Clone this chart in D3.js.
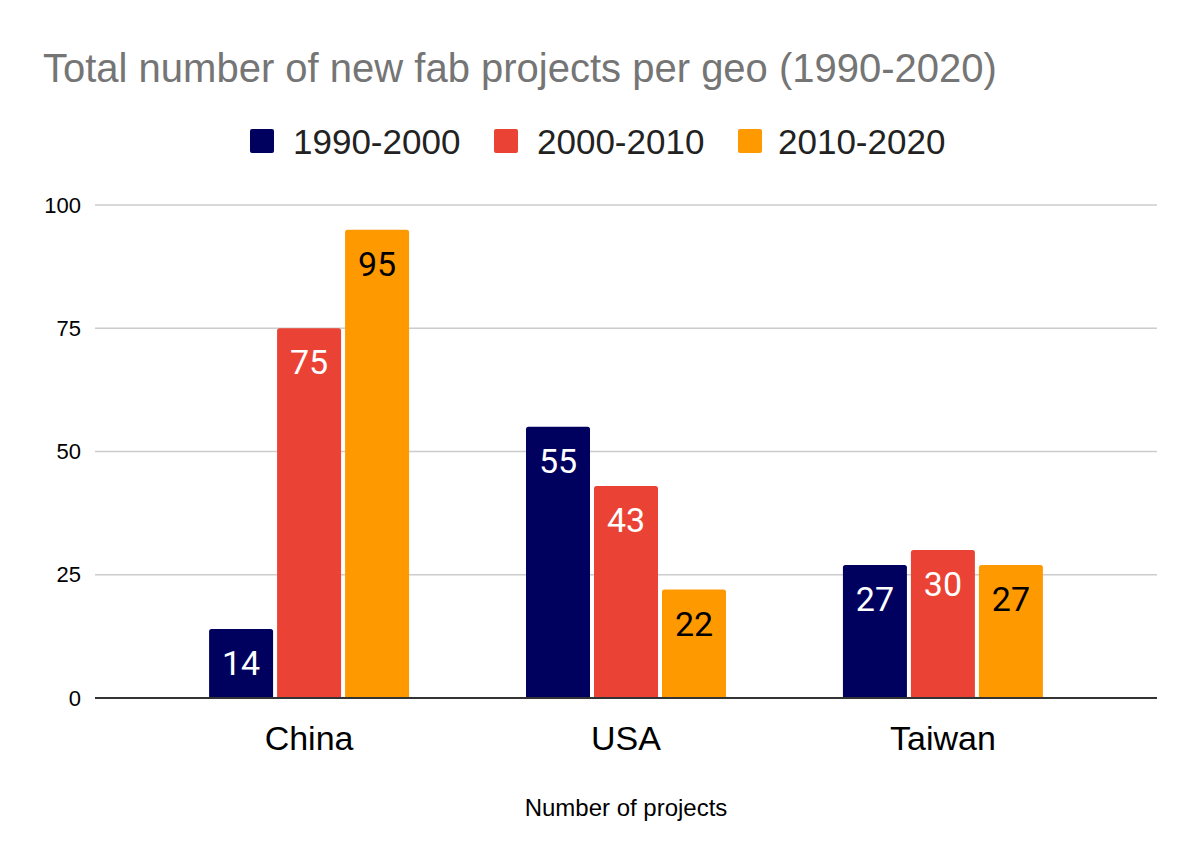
<!DOCTYPE html>
<html>
<head>
<meta charset="utf-8">
<script src="https://cdn.jsdelivr.net/npm/d3@7"></script>
<style>
  body { margin: 0; background: #fff; }
</style>
</head>
<body>
<div id="chart"></div>
<script>
// chart data
var geos = ["China", "USA", "Taiwan"];
var periods = ["1990-2000", "2000-2010", "2010-2020"];
var values_1990 = [14, 55, 27];
var values_2000 = [75, 43, 30];
var values_2010 = [95, 22, 27];
var y_ticks = [0, 25, 50, 75, 100];

var series = [values_1990, values_2000, values_2010];
var colors = ["#00005f", "#ea4335", "#ff9900"];
var label_colors = ["#ffffff", "#ffffff", "#000000"];

var svg_width = 1200;
var svg_height = 866;

var plot = { left: 95, right: 1157, top: 205, bottom: 698 };

var svg = d3.select("#chart")
  .append("svg")
  .attr("width", svg_width)
  .attr("height", svg_height);

// Title
svg.append("text")
  .attr("x", 43)
  .attr("y", 82)
  .attr("font-family", "Liberation Sans, Arial, sans-serif")
  .attr("font-size", 40)
  .attr("fill", "#757575")
  .text("Total number of new fab projects per geo (1990-2020)");

// Scales
var x_scale = d3.scaleBand()
  .domain(geos)
  .range([plot.left, plot.right])
  .paddingInner(0.369)
  .paddingOuter(0.36);

var x_inner = d3.scaleBand()
  .domain(d3.range(periods.length))
  .range([0, x_scale.bandwidth()])
  .paddingInner(0.0588);

var y_scale = d3.scaleLinear()
  .domain([0, 100])
  .range([plot.bottom, plot.top]);

// Gridlines
svg.append("g")
  .selectAll("line")
  .data(y_ticks.filter(d => d > 0))
  .enter()
  .append("line")
  .attr("x1", plot.left)
  .attr("x2", plot.right)
  .attr("y1", d => y_scale(d))
  .attr("y2", d => y_scale(d))
  .attr("stroke", "#cccccc")
  .attr("stroke-width", 1.5);

// Y axis labels
var y_axis = d3.axisLeft(y_scale).tickValues(y_ticks).tickSize(0).tickPadding(0);
svg.append("g")
  .attr("transform", `translate(81, 0)`)
  .call(y_axis)
  .call(g => g.select(".domain").remove())
  .selectAll("text")
  .attr("font-family", "Liberation Sans, Arial, sans-serif")
  .attr("font-size", 22)
  .attr("fill", "#000");

// Bars
var bar_data = [];
geos.forEach(function(geo, i) {
  series.forEach(function(vals, s) {
    bar_data.push({ geo: geo, s: s, value: vals[i] });
  });
});

function barPath(x, y, w, h, r) {
  return `M${x},${y + h} L${x},${y + r} Q${x},${y} ${x + r},${y} L${x + w - r},${y} Q${x + w},${y} ${x + w},${y + r} L${x + w},${y + h} Z`;
}

var bars = svg.append("g");
bars.selectAll("path")
  .data(bar_data)
  .enter()
  .append("path")
  .attr("fill", d => colors[d.s])
  .attr("d", function(d) {
    var x = x_scale(d.geo) + x_inner(d.s);
    var y = y_scale(d.value);
    return barPath(x, y, x_inner.bandwidth(), y_scale(0) - y, 2.5);
  });

// Value labels
bars.selectAll("text")
  .data(bar_data)
  .enter()
  .append("text")
  .attr("x", d => x_scale(d.geo) + x_inner(d.s) + x_inner.bandwidth() / 2)
  .attr("y", d => y_scale(d.value) + 46)
  .attr("text-anchor", "middle")
  .attr("font-family", "Roboto, sans-serif")
  .attr("font-size", 34)
  .attr("fill", d => label_colors[d.s])
  .text(d => d.value);

// Baseline
svg.append("line")
  .attr("x1", plot.left)
  .attr("x2", plot.right)
  .attr("y1", y_scale(0))
  .attr("y2", y_scale(0))
  .attr("stroke", "#333333")
  .attr("stroke-width", 2);

// X axis labels
var x_axis = d3.axisBottom(x_scale).tickSize(0).tickPadding(0);
svg.append("g")
  .attr("transform", `translate(0, 726)`)
  .call(x_axis)
  .call(g => g.select(".domain").remove())
  .selectAll("text")
  .attr("font-family", "Liberation Sans, Arial, sans-serif")
  .attr("font-size", 34)
  .attr("fill", "#000");

// X axis title
svg.append("text")
  .attr("x", (plot.left + plot.right) / 2)
  .attr("y", 816)
  .attr("text-anchor", "middle")
  .attr("font-family", "Liberation Sans, Arial, sans-serif")
  .attr("font-size", 24)
  .attr("fill", "#000")
  .text("Number of projects");

// Legend
var legend_x = [250, 494, 738];
var legend_text_x = [293, 537, 778];
var legend = svg.append("g");
periods.forEach(function(p, i) {
  legend.append("rect")
    .attr("x", legend_x[i])
    .attr("y", 129)
    .attr("width", 24)
    .attr("height", 24)
    .attr("rx", 2)
    .attr("fill", colors[i]);
  legend.append("text")
    .attr("x", legend_text_x[i])
    .attr("y", 154)
    .attr("font-family", "Liberation Sans, Arial, sans-serif")
    .attr("font-size", 35)
    .attr("fill", "#222222")
    .text(p);
});
</script>
</body>
</html>
